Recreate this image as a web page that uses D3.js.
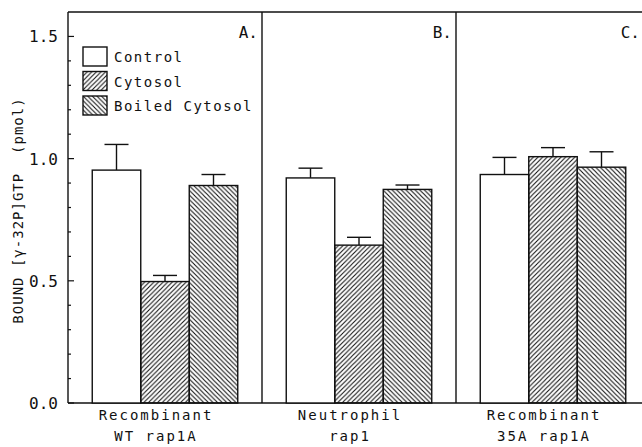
<!DOCTYPE html>
<html>
<head>
<meta charset="utf-8">
<script src="https://cdn.jsdelivr.net/npm/d3@7"></script>
<style>
  body { margin: 0; background: #fff; }
  text { font-family: "DejaVu Sans Mono", monospace; fill: #111; }
</style>
</head>
<body>
<main></main>
<script>
const groups = ['A', 'B', 'C']
const panelLabels = ['A.', 'B.', 'C.']
const catLine1 = ['Recombinant', 'Neutrophil', 'Recombinant']
const catLine2 = ['WT rap1A', 'rap1', '35A rap1A']
const series = ['Control', 'Cytosol', 'Boiled Cytosol']
const control = [0.953, 0.921, 0.935]
const controlErr = [0.105, 0.04, 0.07]
const cytosol = [0.497, 0.646, 1.008]
const cytosolErr = [0.025, 0.032, 0.037]
const boiled = [0.89, 0.874, 0.965]
const boiledErr = [0.045, 0.018, 0.063]
const yTicks = [0, 0.5, 1.0, 1.5]

const values = [control, cytosol, boiled]
const errs = [controlErr, cytosolErr, boiledErr]
const fills = ['#fff', 'url(#fwd)', 'url(#back)']

const width = 642, height = 447
const margin = {top: 12, left: 68}
const panelW = 194
const plotBottom = 403

const svg = d3.select('main').append('svg')
  .attr('width', width)
  .attr('height', height)

const defs = svg.append('defs')
const p = 4.6
const pat = (id, d) => {
  defs.append('pattern')
    .attr('id', id)
    .attr('patternUnits', 'userSpaceOnUse')
    .attr('width', p).attr('height', p)
    .append('path')
    .attr('d', d)
    .attr('stroke', '#111')
    .attr('stroke-width', 1.1)
}
pat('fwd', `M-1,1 l2,-2 M0,${p} l${p},-${p} M${p - 1},${p + 1} l2,-2`)
pat('back', `M-1,${p - 1} l2,2 M0,0 l${p},${p} M${p - 1},-1 l2,2`)

const x0 = d3.scaleBand().domain(groups).range([margin.left, margin.left + 3 * panelW])
const x1 = d3.scaleBand().domain(series).range([0, panelW]).paddingOuter(0.5)
const y = d3.scaleLinear().domain([0, 1.6]).range([plotBottom, margin.top])

// frame: top + bottom + left axis + panel dividers
const g = svg.append('g')
g.append('line').attr('x1', margin.left).attr('x2', width + 10)
  .attr('y1', y(1.6)).attr('y2', y(1.6))
g.append('line').attr('x1', margin.left).attr('x2', width + 10)
  .attr('y1', plotBottom).attr('y2', plotBottom)
g.append('line').attr('x1', margin.left).attr('x2', margin.left)
  .attr('y1', y(1.6)).attr('y2', plotBottom)
groups.slice(1).forEach(d => {
  g.append('line').attr('x1', x0(d)).attr('x2', x0(d))
    .attr('y1', y(1.6)).attr('y2', plotBottom)
})
g.selectAll('line').attr('stroke', '#111').attr('stroke-width', 1.4)

// y axis ticks (inside)
const minor = d3.range(1, 16).filter(i => i % 5 !== 0).map(i => i / 10)
svg.append('g').selectAll('line').data(minor).enter().append('line')
  .attr('x1', margin.left).attr('x2', margin.left + 3)
  .attr('y1', d => y(d)).attr('y2', d => y(d))
  .attr('stroke', '#111').attr('stroke-width', 1.2)
svg.append('g').selectAll('line').data(yTicks).enter().append('line')
  .attr('x1', margin.left).attr('x2', margin.left + 6)
  .attr('y1', d => y(d)).attr('y2', d => y(d))
  .attr('stroke', '#111').attr('stroke-width', 1.2)
svg.append('g').selectAll('text').data(yTicks).enter().append('text')
  .attr('x', 58).attr('y', d => y(d) + 6)
  .attr('text-anchor', 'end')
  .attr('font-size', 16)
  .text(d3.format('.1f'))

// y label
svg.append('text')
  .attr('transform', `translate(23,${(plotBottom + margin.top) / 2 + 3}) rotate(-90)`)
  .attr('text-anchor', 'middle')
  .attr('font-size', 14)
  .attr('letter-spacing', 1.0)
  .style('white-space', 'pre')
  .text('BOUND [γ-32P]GTP  (pmol)')

// bars
const panel = svg.append('g').selectAll('g')
  .data(groups)
  .enter().append('g')
  .attr('transform', d => `translate(${x0(d)},0)`)

const bars = panel.selectAll('g.bar')
  .data((d, gi) => series.map((s, si) => ({s, si, v: values[si][gi], e: errs[si][gi]})))
  .enter().append('g').attr('class', 'bar')

bars.append('line')
  .attr('x1', d => x1(d.s) + x1.bandwidth() / 2)
  .attr('x2', d => x1(d.s) + x1.bandwidth() / 2)
  .attr('y1', d => y(d.v)).attr('y2', d => y(d.v + d.e))
bars.append('line')
  .attr('x1', d => x1(d.s) + x1.bandwidth() / 2 - 12)
  .attr('x2', d => x1(d.s) + x1.bandwidth() / 2 + 12)
  .attr('y1', d => y(d.v + d.e)).attr('y2', d => y(d.v + d.e))
bars.selectAll('line').attr('stroke', '#111').attr('stroke-width', 1.4)

bars.append('rect')
  .attr('x', d => x1(d.s))
  .attr('width', x1.bandwidth())
  .attr('y', d => y(d.v))
  .attr('height', d => plotBottom - y(d.v))
  .attr('fill', d => fills[d.si])
  .attr('stroke', '#111')
  .attr('stroke-width', 1.4)

// panel letters (keep the last one inside the picture)
panel.append('text')
  .attr('x', d => Math.min(panelW - 4, width - 2 - x0(d))).attr('y', 38)
  .attr('text-anchor', 'end')
  .attr('font-size', 16)
  .text((d, i) => panelLabels[i])

// category labels
panel.append('text')
  .attr('x', panelW / 2 - 9).attr('y', 420)
  .attr('text-anchor', 'middle')
  .attr('font-size', 14)
  .attr('letter-spacing', 2)
  .text((d, i) => catLine1[i])
panel.append('text')
  .attr('x', panelW / 2 - 9).attr('y', 441)
  .attr('text-anchor', 'middle')
  .attr('font-size', 14)
  .attr('letter-spacing', 2)
  .text((d, i) => catLine2[i])

// legend
const legend = svg.append('g')
  .selectAll('g')
  .data(series)
  .enter().append('g')
  .attr('transform', (d, i) => `translate(83, ${47 + i * 24.5})`)

legend.append('rect')
  .attr('width', 24).attr('height', 19)
  .attr('fill', (d, i) => fills[i])
  .attr('stroke', '#111')
  .attr('stroke-width', 1.4)

legend.append('text')
  .attr('x', 31).attr('y', 15)
  .attr('font-size', 14)
  .attr('letter-spacing', 1.5)
  .text(d => d)
</script>
</body>
</html>
